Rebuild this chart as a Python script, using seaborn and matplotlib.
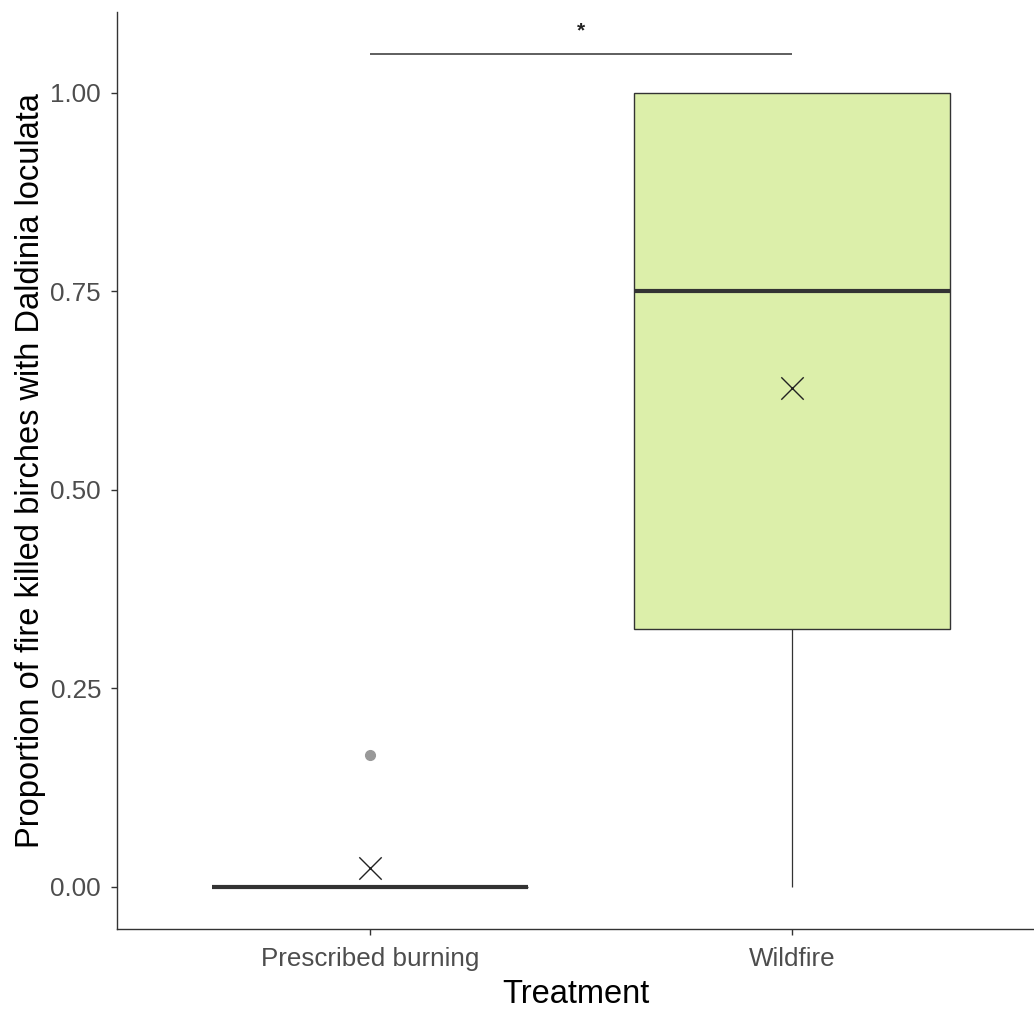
import numpy as np
import pandas as pd
import matplotlib
matplotlib.use("Agg")
import matplotlib.pyplot as plt
import seaborn as sns

# ---- data ----
treatments = ["Prescribed burning", "Wildfire"]
prescribed_values = [0.0, 0.0, 0.0, 0.0, 0.0, 0.0, 0.1667]
wildfire_values = [0.0, 0.25, 0.40, 0.75, 1.0, 1.0, 1.0]
box_colors = ["#F8766D", "#DCEFAA"]
y_ticks = [0.00, 0.25, 0.50, 0.75, 1.00]
y_tick_labels = ["0.00", "0.25", "0.50", "0.75", "1.00"]
sig_label = "*"
x_title = "Treatment"
y_title = "Proportion of fire killed birches with Daldinia loculata"

df = pd.DataFrame({
    "Treatment": [treatments[0]] * len(prescribed_values) + [treatments[1]] * len(wildfire_values),
    "Proportion": prescribed_values + wildfire_values,
})

sns.set_theme(style="ticks")
plt.rcParams["font.family"] = ["Liberation Sans", "DejaVu Sans"]

fig = plt.figure(figsize=(10.34, 10.10), dpi=100)
ax = fig.add_axes([117 / 1034, 1 - 929 / 1010, 1 - 117 / 1034, (929 - 12) / 1010])

sns.boxplot(
    data=df, x="Treatment", y="Proportion", hue="Treatment", order=treatments,
    hue_order=treatments, palette=dict(zip(treatments, box_colors)), legend=False,
    width=0.75, saturation=1, linewidth=1.0, linecolor="#333333", whis=1.5,
    showcaps=False,
    medianprops=dict(color="#333333", linewidth=3.0),
    whiskerprops=dict(color="#333333", linewidth=0.9),
    boxprops=dict(edgecolor="#333333", linewidth=1.0),
    flierprops=dict(marker="o", markerfacecolor="#999999", markeredgecolor="#999999",
                    markersize=7),
    ax=ax,
)

# mean markers
means = df.groupby("Treatment")["Proportion"].mean().reindex(treatments)
ax.scatter(np.arange(len(treatments)), means.values, marker="x", s=260,
           color="#222222", linewidths=1.0, zorder=5)

# significance bracket
ax.plot([0, 1], [1.049, 1.049], color="#333333", lw=1.1, solid_capstyle="butt")
ax.text(0.5, 1.066, sig_label, ha="center", va="bottom", fontsize=15,
        fontweight="bold", color="#222222")

ax.set_xlim(-0.6, 1.573)
ax.set_ylim(-0.053, 1.102)
ax.set_yticks(y_ticks)
ax.set_yticklabels(y_tick_labels)

sns.despine(ax=ax)
for s in ["left", "bottom"]:
    ax.spines[s].set_color("#333333")
    ax.spines[s].set_linewidth(1.0)
ax.tick_params(axis="both", colors="#333333", length=4, width=1.0,
               labelsize=18.7, labelcolor="#4D4D4D")
ax.tick_params(axis="x", pad=9)
ax.tick_params(axis="y", pad=7.5)

ax.set_xlabel(x_title, fontsize=23.5, color="black", labelpad=6)
ax.set_ylabel(y_title, fontsize=23.5, color="black", labelpad=3)

fig.savefig("out.png", dpi=100)
